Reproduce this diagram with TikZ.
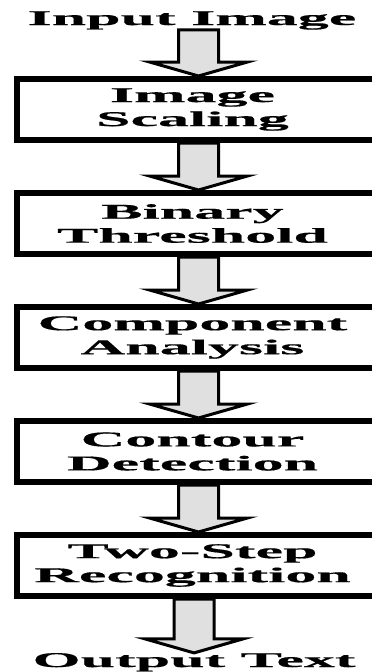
\documentclass[tikz,border=0pt]{standalone}
\usepackage{fontspec}
\usepackage{tikz}
\usetikzlibrary{calc,positioning}
\newfontfamily\flowfont[FakeStretch=2.95,FakeBold=0.6]{Liberation Serif}
\definecolor{shaftgray}{HTML}{E0E0E0}

% block arrow from the bottom of one node to the top of the next
\newcommand{\flowarrow}[2]{%
  \draw[flowarr] ($(#2.north |- #1.south)+(-20,0)$) -- ($(#2.north)+(-20,14)$)
    -- ($(#2.north)+(-49,14)$) -- (#2.north) -- ($(#2.north)+(49,14)$)
    -- ($(#2.north)+(20,14)$) -- ($(#2.north |- #1.south)+(20,0)$) -- cycle;}

\begin{document}
\begin{tikzpicture}[x=1pt,y=1pt,
          every node/.style={font=\flowfont\bfseries\fontsize{21}{24}\selectfont},
          steptext/.style={align=center,inner sep=0pt,xshift=-6pt},
          stepbox/.style={draw,line width=6pt,fill=white,minimum width=363pt,
                          minimum height=61pt,inner sep=0pt,
                          label={[steptext]center:{#1}}},
          flowarr/.style={draw,line width=3pt,fill=shaftgray,line join=miter},
      ]
        \useasboundingbox (0,0) rectangle (372,-672);

        \node[anchor=base,inner sep=0pt] (in) at (192,-25) {Input Image};
        \node[stepbox={Image\\Scaling}] (scale) at (198.5,-109.5) {};
        \node[stepbox={Binary\\Threshold}] (thresh) at (198.5,-223.5) {};
        \node[stepbox={Component\\Analysis}] (comp) at (198.5,-337.5) {};
        \node[stepbox={Contour\\Detection}] (contour) at (198.5,-451.5) {};
        \node[stepbox={Two-Step\\Recognition}] (recog) at (198.5,-565.5) {};
        \node[anchor=base,inner sep=0pt] (out) at (194,-667) {Output Text};

        \flowarrow{in}{scale}
        \flowarrow{scale}{thresh}
        \flowarrow{thresh}{comp}
        \flowarrow{comp}{contour}
        \flowarrow{contour}{recog}
        \flowarrow{recog}{out}
      \end{tikzpicture}
\end{document}
